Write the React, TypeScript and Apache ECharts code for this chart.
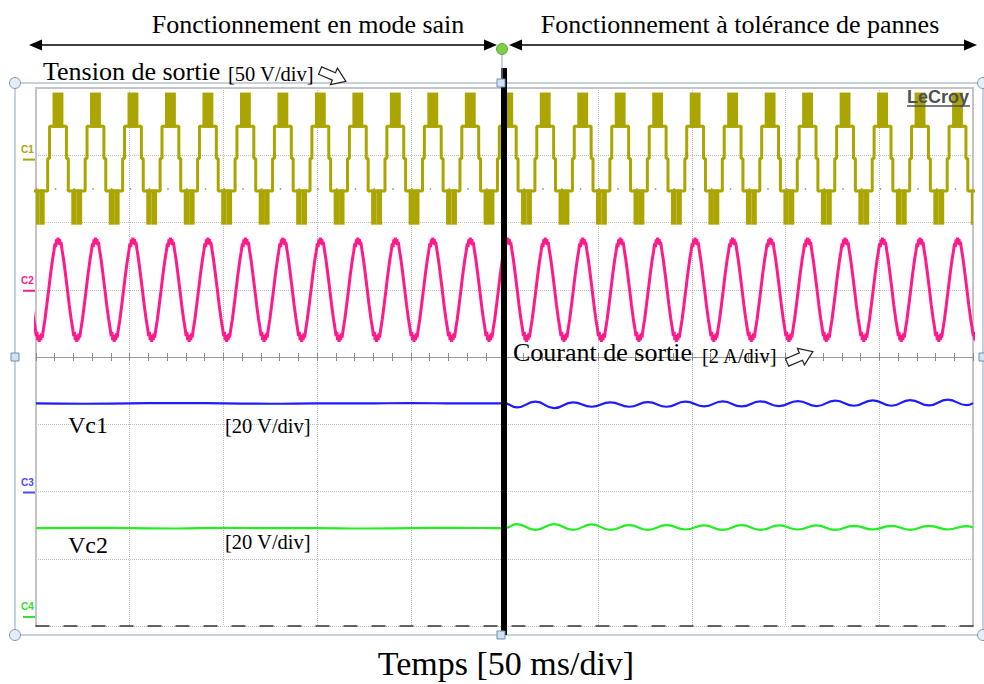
import React, { useEffect, useRef } from "react";
import * as echarts from "echarts";

// ---------- screen: 10 x 8 divisions ----------
const TIME_MIN_MS = 0;
const TIME_MAX_MS = 500;
const TIME_DIV_MS = 50;
const MINOR_TICK_MS = 10;
const DIV_MIN = -4;
const DIV_MAX = 4;
const DOT_ROW_DIV = 2.5;

// ---------- channel scales (ground markers) ----------
const C1_RANGE = [-347.5, 52.5]; // 50 V/div
const C2_RANGE = [-10, 6]; // 2 A/div
const C3_RANGE = [-40, 120]; // 20 V/div
const C4_RANGE = [-3, 157]; // 20 V/div

// ---------- C1 : output voltage, one 20 ms period (V) ----------
const C1_PERIOD_MS = 20;
const C1_FIRST_MS = -18.27;
const C1_PERIOD_COUNT = 27;
const C1_SEG_START = [0, 2.9, 4.5, 5.5, 7.1, 12.9, 14.5, 15.5, 17.1];
const C1_SEG_END = [2.9, 4.5, 5.5, 7.1, 12.9, 14.5, 15.5, 17.1, 20];
const C1_SEG_LEVEL = [-24, -24, 0, 24, 24, 24, 0, -24, -24];
const C1_SEG_PWM_TO: (number | null)[] = [-48, null, null, null, 48, null, null, null, -48];

// ---------- C2 : output current, one 20 ms period (A) ----------
const C2_PERIOD_MS = 20;
const C2_FIRST_MS = -8.27;
const C2_PERIOD_COUNT = 27;
const C2_T = [0, 0.4, 0.8, 1.2, 1.6, 2.2, 3, 4, 5, 6, 7, 7.8, 8.4, 8.8, 9.2, 9.6, 10, 10.4, 10.8, 11.2, 11.6, 12.2, 13, 14, 15, 16, 17, 17.8, 18.4, 18.8, 19.2, 19.6];
const C2_V = [1.55, 1.36, 1.5, 1.33, 1.42, 1.18, 0.9, 0.47, 0.02, -0.45, -0.86, -1.14, -1.38, -1.25, -1.5, -1.34, -1.55, -1.35, -1.5, -1.3, -1.42, -1.18, -0.9, -0.47, -0.02, 0.45, 0.86, 1.14, 1.38, 1.27, 1.5, 1.35];

// ---------- C3 / C4 : capacitor voltages Vc1, Vc2 (V) ----------
const VC_T_BEFORE = [0, 25, 50, 75, 100, 125, 150, 175, 200, 225, 250];
const VC1_BEFORE = [26.2, 26.1, 26.2, 26.3, 26.2, 26.1, 26.2, 26.2, 26.3, 26.2, 26.2];
const VC2_BEFORE = [26.1, 26.2, 26.1, 26.0, 26.2, 26.1, 26.1, 26.0, 26.1, 26.2, 26.1];
const VC_T_AFTER = [256.5, 266.5, 276.5, 286.5, 296.5, 306.5, 316.5, 326.5, 336.5, 346.5, 356.5, 366.5, 376.5, 386.5, 396.5, 406.5, 416.5, 426.5, 436.5, 446.5, 456.5, 466.5, 476.5, 486.5, 496.5, 500];
const VC1_AFTER = [25.0, 26.7, 24.8, 26.5, 25.2, 26.5, 25.2, 26.6, 25.2, 26.7, 25.3, 26.8, 25.3, 26.8, 25.4, 26.9, 25.4, 27.0, 25.5, 27.1, 25.5, 27.2, 25.6, 27.3, 25.7, 26.3];
const VC2_AFTER = [27.3, 25.6, 27.3, 25.6, 27.2, 25.6, 27.0, 25.6, 27.0, 25.7, 26.9, 25.6, 27.0, 25.6, 26.9, 25.7, 26.9, 25.6, 26.8, 25.7, 26.8, 25.6, 26.8, 25.7, 26.7, 26.3];

// ---------- texts ----------
const TITLE_LEFT = "Fonctionnement en mode sain";
const TITLE_RIGHT = "Fonctionnement à tolérance de pannes";
const X_TITLE = "Temps [50 ms/div]";
const CH_NAMES = ["C1", "C2", "C3", "C4"];

// ---------- styles ----------
const C1_COLOR = "#aaa500";
const C2_COLOR = "#ff1a8c";
const C3_COLOR = "#1c1cff";
const C4_COLOR = "#22ee22";
const LABEL_COLORS = ["#aaa500", "#ff1a8c", "#4a4aff", "#2ee02e"];
const FRAME = "#8ea3bd";
const SERIF = '"Liberation Serif", "Times New Roman", serif';
const SANS = '"Liberation Sans", Arial, sans-serif';

function buildC1() {
  const line: [number, number][] = [];
  const bands: [number, number, number, number][] = [];
  for (let k = 0; k < C1_PERIOD_COUNT; k++) {
    const t0 = C1_FIRST_MS + k * C1_PERIOD_MS;
    for (let i = 0; i < C1_SEG_START.length; i++) {
      const a = t0 + C1_SEG_START[i];
      const b = t0 + C1_SEG_END[i];
      line.push([a, C1_SEG_LEVEL[i]], [b, C1_SEG_LEVEL[i]]);
      const other = C1_SEG_PWM_TO[i];
      if (other !== null) {
        bands.push([a, b, Math.min(other, C1_SEG_LEVEL[i]), Math.max(other, C1_SEG_LEVEL[i])]);
      }
    }
  }
  return { line, bands };
}

function buildC2() {
  const out: [number, number][] = [];
  for (let k = 0; k < C2_PERIOD_COUNT; k++) {
    const t0 = C2_FIRST_MS + k * C2_PERIOD_MS;
    for (let i = 0; i < C2_T.length; i++) out.push([t0 + C2_T[i], C2_V[i]]);
  }
  return out;
}

function zip(t: number[], v: number[]) {
  return t.map((x, i) => [x, v[i]]);
}

function txt(text: string, x: number, y: number, size: number, align = "left", family = SERIF, weight = "normal", fill = "#000") {
  return {
    type: "text",
    x,
    y,
    z: 120,
    style: {
      text,
      fontSize: size,
      fontFamily: family,
      fontWeight: weight,
      fill,
      align,
      textAlign: align,
      verticalAlign: "middle",
      textVerticalAlign: "middle",
    },
  };
}

function blockArrow(cx: number, cy: number, rotation: number) {
  return {
    type: "polygon",
    x: cx,
    y: cy,
    rotation,
    z: 120,
    shape: {
      points: [[-14, -4], [1, -4], [1, -9], [14, 0], [1, 9], [1, 4], [-14, 4]],
    },
    style: { fill: "#fff", stroke: "#222", lineWidth: 1.2 },
  };
}

function handleCircle(cx: number, cy: number) {
  return { type: "circle", z: 130, shape: { cx, cy, r: 5.5 }, style: { fill: "#e3edf6", stroke: "#8596ab", lineWidth: 1 } };
}
function handleSquare(cx: number, cy: number) {
  return { type: "rect", z: 130, shape: { x: cx - 4, y: cy - 4, width: 8, height: 8 }, style: { fill: "#cfe2f3", stroke: "#6f8fb3", lineWidth: 1 } };
}

export default function App() {
  const ref = useRef<HTMLDivElement>(null);
  useEffect(() => {
    if (!ref.current) return;
    const chart = echarts.init(ref.current, null, { renderer: "svg" });
    const c1 = buildC1();
    const c2 = buildC2();
    const vc1 = [...zip(VC_T_BEFORE, VC1_BEFORE), ...zip(VC_T_AFTER, VC1_AFTER)];
    const vc2 = [...zip(VC_T_BEFORE, VC2_BEFORE), ...zip(VC_T_AFTER, VC2_AFTER)];

    const hidden = (range: number[]) => ({
      type: "value",
      min: range[0],
      max: range[1],
      show: false,
      axisLine: { show: false, onZero: false },
      splitLine: { show: false },
    });

    chart.setOption({
      animation: false,
      backgroundColor: "#ffffff",
      grid: { left: 36, right: 11, top: 88, bottom: 58, containLabel: false },
      xAxis: [
        {
          type: "value",
          min: TIME_MIN_MS,
          max: TIME_MAX_MS,
          interval: TIME_DIV_MS,
          position: "bottom",
          axisLine: { show: true, onZero: false, lineStyle: { color: "#333", width: 1.5, type: [13, 15] } },
          axisTick: { show: false },
          axisLabel: { show: false },
          splitLine: { show: true, lineStyle: { color: "#bdbdbd", type: "dotted", width: 1 } },
        },
        {
          type: "value",
          min: TIME_MIN_MS,
          max: TIME_MAX_MS,
          position: "top",
          axisLine: { show: true, onZero: false, lineStyle: { color: "#c4c4c4", width: 2 } },
          axisTick: { show: false },
          axisLabel: { show: false },
          splitLine: { show: false },
        },
        {
          type: "value",
          min: TIME_MIN_MS,
          max: TIME_MAX_MS,
          interval: MINOR_TICK_MS,
          position: "bottom",
          axisLine: { show: true, onZero: true, onZeroAxisIndex: 0, lineStyle: { color: "#9a9a9a", width: 1 } },
          axisTick: { show: true, length: 4, lineStyle: { color: "#8a8a8a" } },
          axisLabel: { show: false },
          splitLine: { show: false },
        },
        {
          type: "value",
          min: TIME_MIN_MS,
          max: TIME_MAX_MS,
          interval: MINOR_TICK_MS,
          position: "bottom",
          axisLine: { show: false, onZero: true, onZeroAxisIndex: 0 },
          axisTick: { show: true, inside: true, length: 4, lineStyle: { color: "#8a8a8a" } },
          axisLabel: { show: false },
          splitLine: { show: false },
        },
      ],
      yAxis: [
        {
          type: "value",
          min: DIV_MIN,
          max: DIV_MAX,
          interval: 1,
          position: "left",
          axisLine: { show: true, onZero: false, lineStyle: { color: "#c4c4c4", width: 2 } },
          axisTick: { show: false },
          axisLabel: { show: false },
          splitLine: { show: true, lineStyle: { color: "#bdbdbd", type: "dotted", width: 1 } },
        },
        hidden(C1_RANGE),
        hidden(C2_RANGE),
        hidden(C3_RANGE),
        hidden(C4_RANGE),
        {
          type: "value",
          min: DIV_MIN,
          max: DIV_MAX,
          position: "right",
          axisLine: { show: true, onZero: false, lineStyle: { color: "#c4c4c4", width: 2 } },
          axisTick: { show: false },
          axisLabel: { show: false },
          splitLine: { show: false },
        },
      ],
      series: [
        {
          name: "dots",
          type: "line",
          xAxisIndex: 0,
          yAxisIndex: 0,
          data: [[TIME_MIN_MS, DOT_ROW_DIV], [TIME_MAX_MS, DOT_ROW_DIV]],
          showSymbol: false,
          silent: true,
          lineStyle: { color: "#8a8a8a", width: 1.5, type: [1.5, 17.25] },
          z: 1,
        },
        {
          name: "C1",
          type: "line",
          xAxisIndex: 0,
          yAxisIndex: 1,
          data: c1.line,
          showSymbol: false,
          lineStyle: { color: C1_COLOR, width: 3 },
          z: 3,
        },
        {
          name: "C1 PWM",
          type: "custom",
          xAxisIndex: 0,
          yAxisIndex: 1,
          data: c1.bands,
          encode: { x: [0, 1], y: [2, 3] },
          renderItem: (params: any, api: any) => {
            const p0 = api.coord([api.value(0), api.value(3)]);
            const p1 = api.coord([api.value(1), api.value(2)]);
            const cs = params.coordSys;
            const shape = echarts.graphic.clipRectByRect(
              { x: p0[0], y: p0[1] - 1.5, width: p1[0] - p0[0], height: p1[1] - p0[1] + 3 },
              { x: cs.x, y: cs.y, width: cs.width, height: cs.height }
            );
            if (!shape) return null;
            return { type: "rect", shape, style: { fill: C1_COLOR } };
          },
          z: 3,
        },
        {
          name: "C2",
          type: "line",
          xAxisIndex: 0,
          yAxisIndex: 2,
          data: c2,
          showSymbol: false,
          lineStyle: { color: C2_COLOR, width: 3 },
          z: 3,
        },
        {
          name: "Vc1",
          type: "line",
          xAxisIndex: 0,
          yAxisIndex: 3,
          data: vc1,
          smooth: 0.5,
          showSymbol: false,
          lineStyle: { color: C3_COLOR, width: 2.2 },
          z: 3,
        },
        {
          name: "Vc2",
          type: "line",
          xAxisIndex: 0,
          yAxisIndex: 4,
          data: vc2,
          smooth: 0.5,
          showSymbol: false,
          lineStyle: { color: C4_COLOR, width: 2.2 },
          z: 3,
        },
      ],
    });

    // channel ground markers from the channel scales
    const grounds = [1, 2, 3, 4].map((i) => chart.convertToPixel({ yAxisIndex: i } as any, 0) as number);
    const chLabels: any[] = [];
    grounds.forEach((gy, i) => {
      chLabels.push(txt(CH_NAMES[i], 21, gy - 9, 10, "left", SANS, "bold", LABEL_COLORS[i]));
      chLabels.push({
        type: "line",
        z: 120,
        shape: { x1: 23, y1: gy + 1, x2: 35, y2: gy + 1 },
        style: { stroke: LABEL_COLORS[i], lineWidth: 2 },
      });
    });

    const arrowHead = (tipX: number, dir: number) => ({
      type: "polygon",
      z: 120,
      shape: { points: [[tipX, 45], [tipX - dir * 13, 39.5], [tipX - dir * 13, 50.5]] },
      style: { fill: "#000" },
    });

    chart.setOption({
      graphic: [
        // selection frame
        { type: "rect", z: 110, shape: { x: 15, y: 83, width: 968, height: 552 }, style: { fill: "none", stroke: FRAME, lineWidth: 1 } },
        // event marker bar
        { type: "rect", z: 115, shape: { x: 501, y: 68, width: 6, height: 567 }, style: { fill: "#000" } },
        { type: "line", z: 116, shape: { x1: 502, y1: 54, x2: 502, y2: 79 }, style: { stroke: FRAME, lineWidth: 1 } },
        handleCircle(15, 83),
        handleCircle(15, 635),
        handleCircle(983, 83),
        handleCircle(983, 635),
        handleSquare(15, 357),
        handleSquare(501, 83),
        handleSquare(501, 635),
        handleSquare(983, 357),
        { type: "circle", z: 130, shape: { cx: 502, cy: 49, r: 5.5 }, style: { fill: "#7fd040", stroke: "#5f9a5f", lineWidth: 1 } },
        // top double arrows
        { type: "line", z: 120, shape: { x1: 35, y1: 45, x2: 490, y2: 45 }, style: { stroke: "#000", lineWidth: 1.6 } },
        arrowHead(29, -1),
        arrowHead(497, 1),
        { type: "line", z: 120, shape: { x1: 515, y1: 45, x2: 971, y2: 45 }, style: { stroke: "#000", lineWidth: 1.6 } },
        arrowHead(509, -1),
        arrowHead(977, 1),
        // titles
        txt(TITLE_LEFT, 308, 24, 26, "center"),
        txt(TITLE_RIGHT, 740, 24, 26, "center"),
        txt("Tension de sortie", 43, 71, 26),
        txt("[50 V/div]", 228, 74, 20.5),
        blockArrow(333, 76, -0.4),
        txt("Courant de sortie", 513, 352, 26),
        txt("[2 A/div]", 702, 356, 20.5),
        blockArrow(800, 357, 0.4),
        txt("Vc1", 68, 425, 24),
        txt("[20 V/div]", 225, 426, 20.5),
        txt("Vc2", 68, 545, 24),
        txt("[20 V/div]", 225, 542, 20.5),
        txt(X_TITLE, 506, 663, 34, "center"),
        // LeCroy logo
        txt("LeCroy", 907, 97, 18, "left", SANS, "bold", "#505050"),
        { type: "line", z: 120, shape: { x1: 907, y1: 106, x2: 970, y2: 106 }, style: { stroke: "#505050", lineWidth: 1.5 } },
        ...chLabels,
      ],
    });

    return () => chart.dispose();
  }, []);
  return <div ref={ref} style={{ position: "absolute", left: 0, top: 0, width: 984, height: 684 }} />;
}
